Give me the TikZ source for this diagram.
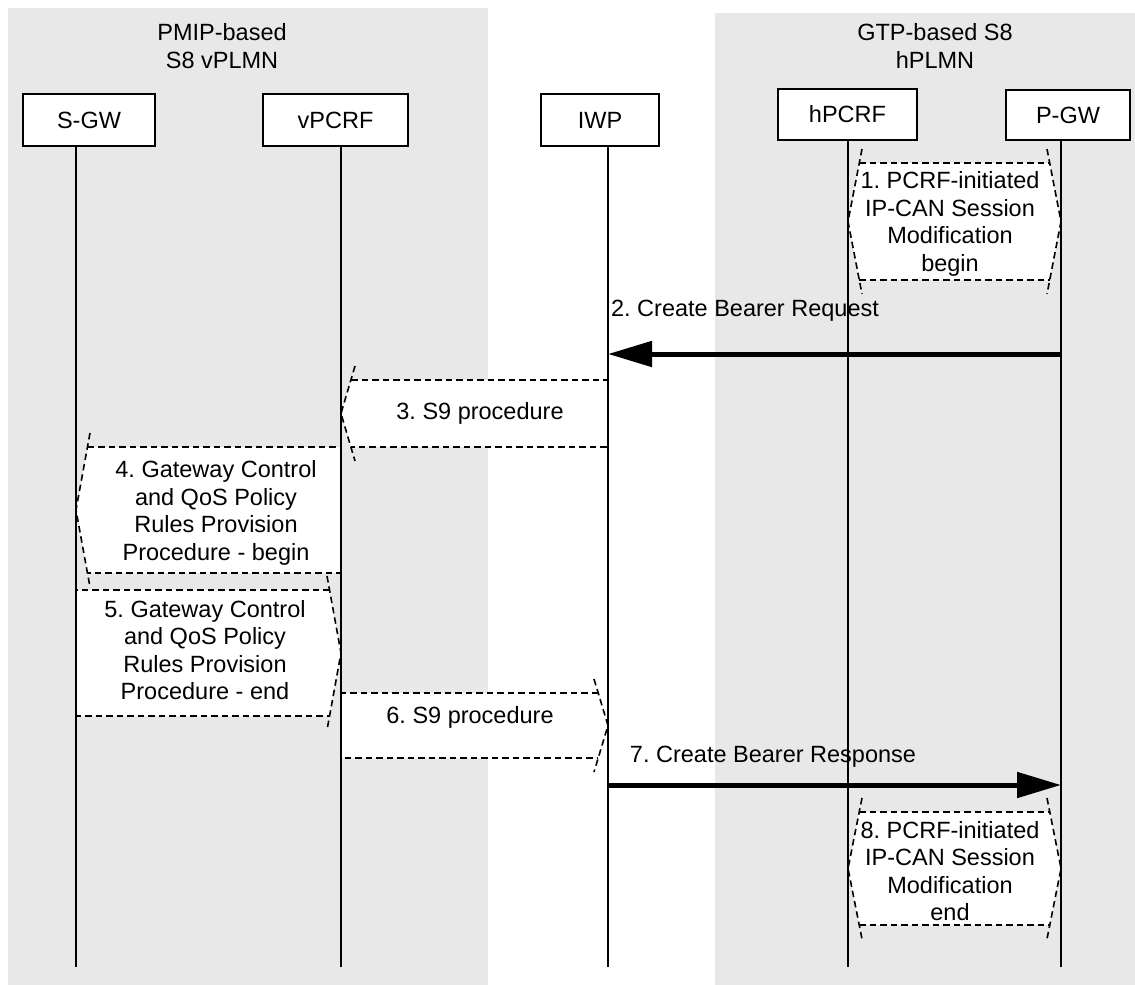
\documentclass[tikz,border=0pt]{standalone}
\usepackage{fontspec}
\setmainfont{Liberation Sans}
\usetikzlibrary{arrows.meta}
\definecolor{panelgray}{RGB}{232,232,232}
\frenchspacing

\begin{document}
\begin{tikzpicture}[x=1pt,y=-1pt,
  every node/.style={font=\fontsize{23.5}{27.5}\selectfont, inner sep=0pt, align=center},
  entity/.style={draw, line width=1.4pt, fill=white},
  lifeline/.style={line width=2pt},
  procfill/.style={fill=white},
  procline/.style={line width=1.6pt, dash pattern=on 6.5pt off 4pt},
  msgarrow/.style={line width=5pt, -{Triangle[length=44pt,width=25pt]}}]

\useasboundingbox (0,0) rectangle (1135,985);

% domain panels
\fill[panelgray] (8,8) rectangle (488,985);
\fill[panelgray] (715,13) rectangle (1135,985);
\node (vtitle) at (222,46) {PMIP-based\\S8 vPLMN};
\node (htitle) at (935,46) {GTP-based S8\\hPLMN};

% network entities
\node[entity, minimum width=132pt, minimum height=52pt] (sgw)   at (89,120)    {S-GW};
\node[entity, minimum width=145pt, minimum height=52pt] (vpcrf) at (335.5,120) {vPCRF};
\node[entity, minimum width=118pt, minimum height=52pt] (iwp)   at (600,120)   {IWP};
\node[entity, minimum width=139pt, minimum height=51pt] (hpcrf) at (847.5,114.5) {hPCRF};
\node[entity, minimum width=124pt, minimum height=50pt] (pgw)   at (1068,115)  {P-GW};

% lifeline positions
\coordinate (sgwX)   at (76,0);
\coordinate (vpcrfX) at (341,0);
\coordinate (iwpX)   at (608,0);
\coordinate (hpcrfX) at (848,0);
\coordinate (pgwX)   at (1061,0);
\coordinate (bottom) at (0,967);

% 1. PCRF-initiated IP-CAN session modification begin
\fill[procfill] (859.3,163) -- (1049.7,163) -- (1061,221.5) -- (1049.7,280) -- (859.3,280) -- (848,221.5) -- cycle;
\draw[procline] (859.3,163) -- (1049.7,163) (859.3,280) -- (1049.7,280);
\draw[procline] (862,149) -- (848,221.5) -- (862,294);
\draw[procline] (1047,149) -- (1061,221.5) -- (1047,294);

% 3. S9 procedure (towards vPCRF)
\fill[procfill] (351,380) -- (608,380) -- (608,447) -- (351,447) -- (341,413.5) -- cycle;
\draw[procline] (351,380) -- (608,380) -- (608,447) -- (351,447);
\draw[procline] (355,366) -- (341,413.5) -- (355,461);

% 4. gateway control and QoS policy rules provision - begin
\fill[procfill] (87.5,447) -- (341,447) -- (341,573) -- (87.5,573) -- (76,510) -- cycle;
\draw[procline] (87.5,447) -- (341,447) -- (341,573) -- (87.5,573);
\draw[procline] (90,433) -- (76,510) -- (90,587);

% 5. gateway control and QoS policy rules provision - end
\fill[procfill] (76,590) -- (329.5,590) -- (341,653) -- (329.5,716) -- (76,716) -- cycle;
\draw[procline] (329.5,590) -- (76,590) -- (76,716) -- (329.5,716);
\draw[procline] (327,576) -- (341,653) -- (327,730);

% 6. S9 procedure (towards IWP)
\fill[procfill] (341,693) -- (598,693) -- (608,725.5) -- (598,758) -- (341,758) -- cycle;
\draw[procline] (598,693) -- (341,693) -- (341,758) -- (598,758);
\draw[procline] (594,679) -- (608,725.5) -- (594,772);

% 8. PCRF-initiated IP-CAN session modification end
\fill[procfill] (859.2,812) -- (1049.8,812) -- (1061,868.5) -- (1049.8,925) -- (859.2,925) -- (848,868.5) -- cycle;
\draw[procline] (859.2,812) -- (1049.8,812) (859.2,925) -- (1049.8,925);
\draw[procline] (862,798) -- (848,868.5) -- (862,939);
\draw[procline] (1047,798) -- (1061,868.5) -- (1047,939);

% lifelines
\draw[lifeline] (sgw.south -| sgwX)     -- (sgwX |- bottom);
\draw[lifeline] (vpcrf.south -| vpcrfX) -- (vpcrfX |- bottom);
\draw[lifeline] (iwp.south -| iwpX)     -- (iwpX |- bottom);
\draw[lifeline] (hpcrf.south -| hpcrfX) -- (hpcrfX |- bottom);
\draw[lifeline] (pgw.south -| pgwX)     -- (pgwX |- bottom);

% messages
\coordinate (m2) at (0,354);
\coordinate (m7) at (0,785);
\draw[msgarrow] (pgwX |- m2) -- (iwpX |- m2);
\draw[msgarrow] (iwpX |- m7) -- (pgwX |- m7);

% labels
\node (t1) at (950,224) {1. PCRF-initiated\\IP-CAN Session\\Modification\\begin};
\node (t2) at (745,311) {2. Create Bearer Request};
\node (t3) at (480,413) {3. S9 procedure};
\node (t4) at (216,513) {4. Gateway Control\\and QoS Policy\\Rules Provision\\Procedure - begin};
\node (t5) at (205,650) {5. Gateway Control\\and QoS Policy\\Rules Provision\\Procedure - end};
\node (t6) at (470,717) {6. S9 procedure};
\node (t7) at (773,757) {7. Create Bearer Response};
\node (t8) at (950,871) {8. PCRF-initiated\\IP-CAN Session\\Modification\\end};
\end{tikzpicture}
\end{document}
